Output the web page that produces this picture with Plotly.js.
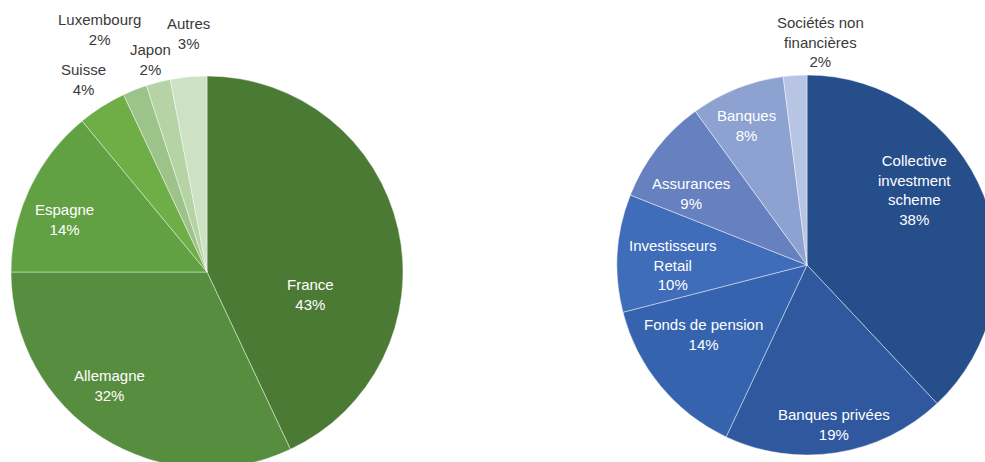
<!DOCTYPE html>
<html>
<head>
<meta charset="utf-8">
<script src="https://cdn.plot.ly/plotly-3.0.1.min.js"></script>
<style>
  html, body { margin: 0; padding: 0; background: #ffffff; overflow: hidden; width: 985px; height: 462px; }
  #chart { width: 1000px; height: 480px; }
</style>
</head>
<body>
<div id="chart"></div>
<script>
// ---- Data ----
const countryLabels = ["France", "Allemagne", "Espagne", "Suisse", "Luxembourg", "Japon", "Autres"];
const countryValues = [43, 32, 14, 4, 2, 2, 3];
const countryColors = ["#4b7a35", "#578d3e", "#62a044", "#6fad47", "#9cc38a", "#b5d3a5", "#cde2c3"];

const investorLabels = ["Collective\ninvestment\nscheme", "Banques privées", "Fonds de pension",
                        "Investisseurs\nRetail", "Assurances", "Banques", "Sociétés non\nfinancières"];
const investorValues = [38, 19, 14, 10, 9, 8, 2];
const investorColors = ["#254e8b", "#2f589f", "#3563ae", "#3f6db9", "#6680c0", "#8ea2d2", "#b8c4e4"];

// ---- Label placement (pixel centres in the 1000x480 paper) ----
const W = 1000, H = 480;
const countryLabelPos = [[310, 294], [109, 385], [64, 219], [83, 80], [99, 29], [150, 59], [188, 34]];
const countryLabelDark = [false, false, false, true, true, true, true];
const investorLabelPos = [[914, 190], [834, 424], [703, 334], [673, 265], [691, 193], [746, 126], [820, 42]];
const investorLabelDark = [false, false, false, false, false, false, true];

const FONT = "Liberation Sans, Arial, sans-serif";

function pieTrace(labels, values, colors, xd, yd) {
  return {
    type: "pie",
    labels: labels.map(l => l.replace(/\n/g, " ")),
    values: values,
    sort: false,
    direction: "clockwise",
    rotation: 0,
    textinfo: "none",
    hoverinfo: "label+percent",
    marker: { colors: colors, line: { color: "rgba(255,255,255,0.55)", width: 0.8 } },
    domain: { x: xd, y: yd },
    showlegend: false
  };
}

function makeAnnotations(labels, values, pos, dark) {
  const total = values.reduce((a, b) => a + b, 0);
  return labels.map((l, i) => ({
    xref: "paper", yref: "paper",
    x: pos[i][0] / W, y: 1 - pos[i][1] / H,
    xanchor: "center", yanchor: "middle",
    showarrow: false,
    align: "center",
    text: l.replace(/\n/g, "<br>") + "<br>" + Math.round(values[i] / total * 100) + "%",
    font: { family: FONT, size: 15, color: dark[i] ? "#3a3a3a" : "#ffffff" }
  }));
}

const data = [
  pieTrace(countryLabels, countryValues, countryColors, [11 / W, 403 / W], [12 / H, 404 / H]),
  pieTrace(investorLabels, investorValues, investorColors, [617 / W, 997 / W], [25 / H, 405 / H])
];

const layout = {
  width: W, height: H,
  margin: { l: 0, r: 0, t: 0, b: 0 },
  paper_bgcolor: "#ffffff",
  font: { family: FONT },
  annotations: makeAnnotations(countryLabels, countryValues, countryLabelPos, countryLabelDark)
    .concat(makeAnnotations(investorLabels, investorValues, investorLabelPos, investorLabelDark))
};

Plotly.newPlot("chart", data, layout, { displayModeBar: false, staticPlot: true });
</script>
</body>
</html>
